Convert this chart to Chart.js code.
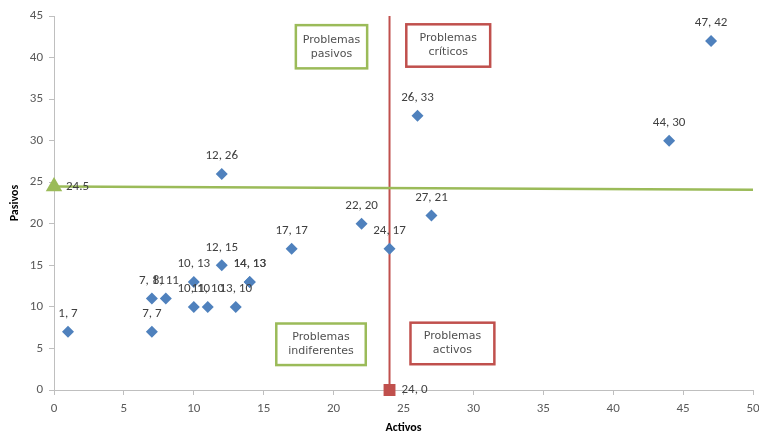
<!DOCTYPE html>
<html>
<head>
<meta charset="utf-8">
<script src="https://cdn.jsdelivr.net/npm/chart.js@4.4.1/dist/chart.umd.min.js"></script>
<style>
  html, body { margin: 0; padding: 0; background: #ffffff; }
  #wrap { width: 759px; height: 437px; }
</style>
</head>
<body>
<div id="wrap"><canvas id="chart" width="759" height="437"></canvas></div>
<script>
// Problems: influence (Activos) vs dependence (Pasivos)
const activos = [1, 7, 7, 8, 10, 10, 11, 12, 12, 13, 14, 14, 17, 22, 24, 26, 27, 44, 47];
const pasivos = [7, 7, 11, 11, 13, 10, 10, 15, 26, 10, 13, 13, 17, 20, 17, 33, 21, 30, 42];

// Mean dependence line (horizontal) and mean influence line (vertical)
const lineaPasivosX = [0, 50];
const lineaPasivosY = [24.5, 24.1];
const lineaActivosX = [24, 24];
const lineaActivosY = [0, 45];

// Axis ticks
const xTicks = [0, 5, 10, 15, 20, 25, 30, 35, 40, 45, 50];
const yTicks = [0, 5, 10, 15, 20, 25, 30, 35, 40, 45];

// Quadrant captions, anchored in data units: [x0, y0(top), x1, y1(bottom)]
const cuadrantes = [
  { lines: ['Problemas', 'pasivos'], box: [17.3, 43.9, 22.4, 38.7], color: '#9BBB59' },
  { lines: ['Problemas', 'críticos'], box: [25.2, 44.0, 31.2, 38.9], color: '#C0504D' },
  { lines: ['Problemas', 'indiferentes'], box: [15.9, 8.0, 22.3, 3.0], color: '#9BBB59' },
  { lines: ['Problemas', 'activos'], box: [25.5, 8.1, 31.5, 3.1], color: '#C0504D' }
];

const puntos = activos.map((x, i) => ({ x: x, y: pasivos[i] }));
const ptsVerde = lineaPasivosX.map((x, i) => ({ x: x, y: lineaPasivosY[i] }));
const ptsRojo = lineaActivosX.map((x, i) => ({ x: x, y: lineaActivosY[i] }));

const labelFont = '13px Carlito, Lato, "Liberation Sans", sans-serif';

const etiquetas = {
  id: 'etiquetas',
  beforeDatasetsDraw(chart) {
    const ctx = chart.ctx;
    const xs = chart.scales.x, ys = chart.scales.y;
    ctx.save();
    cuadrantes.forEach(c => {
      const l = xs.getPixelForValue(c.box[0]);
      const r = xs.getPixelForValue(c.box[2]);
      const t = ys.getPixelForValue(c.box[1]);
      const b = ys.getPixelForValue(c.box[3]);
      ctx.fillStyle = '#ffffff';
      ctx.fillRect(l, t, r - l, b - t);
      ctx.strokeStyle = c.color;
      ctx.lineWidth = 2.5;
      ctx.strokeRect(l, t, r - l, b - t);
      ctx.fillStyle = '#505050';
      ctx.font = '11px "DejaVu Sans", sans-serif';
      ctx.textAlign = 'center';
      ctx.textBaseline = 'middle';
      const cx = (l + r) / 2, cy = (t + b) / 2;
      ctx.fillText(c.lines[0], cx, cy - 7);
      ctx.fillText(c.lines[1], cx, cy + 7);
    });
    ctx.restore();
  },
  afterDatasetsDraw(chart) {
    const ctx = chart.ctx;
    ctx.save();
    ctx.font = labelFont;
    ctx.fillStyle = '#404040';
    ctx.textBaseline = 'middle';
    // value labels above each problem
    const meta = chart.getDatasetMeta(0);
    ctx.textAlign = 'center';
    meta.data.forEach((el, i) => {
      const d = puntos[i];
      ctx.fillText(d.x + ', ' + d.y, el.x, el.y - 18);
    });
    // label to the right of the horizontal line's marker
    const mv = chart.getDatasetMeta(1).data[0];
    ctx.textAlign = 'left';
    ctx.fillText(String(ptsVerde[0].y), mv.x + 12, mv.y);
    // label to the right of the vertical line's marker
    const mr = chart.getDatasetMeta(2).data[0];
    ctx.fillText(ptsRojo[0].x + ', ' + ptsRojo[0].y, mr.x + 12, mr.y);
    ctx.restore();
  }
};

const tickFont = { family: 'Carlito, Lato, "Liberation Sans", sans-serif', size: 13 };

new Chart(document.getElementById('chart'), {
  type: 'scatter',
  data: {
    datasets: [
      {
        data: puntos,
        pointStyle: 'rectRot',
        radius: 6,
        hoverRadius: 6,
        backgroundColor: '#4F81BD',
        borderColor: '#4F81BD',
        borderWidth: 0,
        clip: false,
        order: 1
      },
      {
        data: ptsVerde,
        showLine: true,
        borderColor: '#9BBB59',
        backgroundColor: '#9BBB59',
        borderWidth: 2.5,
        pointStyle: 'triangle',
        radius: [7, 0],
        hoverRadius: [7, 0],
        clip: false,
        order: 2
      },
      {
        data: ptsRojo,
        showLine: true,
        borderColor: '#C0504D',
        backgroundColor: '#C0504D',
        borderWidth: 2,
        pointStyle: 'rect',
        radius: [7, 0],
        hoverRadius: [7, 0],
        clip: false,
        order: 2
      }
    ]
  },
  options: {
    responsive: false,
    animation: false,
    events: [],
    layout: { autoPadding: false, padding: { top: 16, right: 6, left: 0, bottom: 0 } },
    plugins: {
      legend: { display: false },
      tooltip: { enabled: false }
    },
    scales: {
      x: {
        type: 'linear',
        min: 0, max: 50,
        afterBuildTicks: s => { s.ticks = xTicks.map(v => ({ value: v })); },
        ticks: { font: tickFont, color: '#595959', padding: 6, maxRotation: 0 },
        grid: { display: true, drawOnChartArea: false, drawTicks: true, tickLength: 5, color: '#BFBFBF' },
        border: { display: true, color: '#BFBFBF', width: 1 },
        title: {
          display: true, text: 'Activos', color: '#000000',
          font: { family: 'Carlito, Lato, "Liberation Sans", sans-serif', size: 12, weight: 'bold' },
          padding: { top: 0, bottom: 2 }
        },
        afterFit: s => { s.height = 47; s.paddingRight = 0; s.paddingLeft = 0; }
      },
      y: {
        type: 'linear',
        min: 0, max: 45,
        afterBuildTicks: s => { s.ticks = yTicks.map(v => ({ value: v })); },
        ticks: { font: tickFont, color: '#595959', padding: 6 },
        grid: { display: true, drawOnChartArea: false, drawTicks: true, tickLength: 5, color: '#BFBFBF' },
        border: { display: true, color: '#BFBFBF', width: 1 },
        title: {
          display: true, text: 'Pasivos', color: '#000000',
          font: { family: 'Carlito, Lato, "Liberation Sans", sans-serif', size: 12, weight: 'bold' },
          padding: { top: 8, bottom: 0 }
        },
        afterFit: s => { s.width = 54; s.paddingTop = 0; s.paddingBottom = 0; }
      }
    }
  },
  plugins: [etiquetas]
});
</script>
</body>
</html>
